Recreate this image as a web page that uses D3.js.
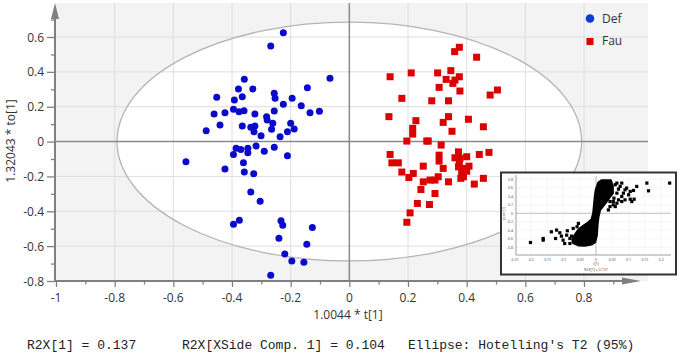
<!DOCTYPE html>
<html lang="en">
    <head>
        <meta charset="utf-8">
        <title>Score plot t[1] vs to[1]</title>
        <script src="https://d3js.org/d3.v7.min.js"></script>
        <style type="text/css">
            body { margin: 0; background: #fff; }
            .tick-label { font-family: "Segoe UI", "Open Sans", "Noto Sans", sans-serif; font-size: 12px; fill: #333; }
            .mono { font-family: "Liberation Mono", "DejaVu Sans Mono", monospace; font-size: 13px; fill: #222; }
        </style>
    </head>
    <body>
        <script type="text/javascript">
        // Data - Def group (blue circles)
        const defT  = [-0.225,-0.268,-0.066,-0.358,-0.378,-0.329,-0.452,-0.392,-0.365,-0.256,-0.253,-0.195,-0.143,-0.225,-0.164,
                       -0.395,-0.424,-0.461,-0.376,-0.359,-0.322,-0.256,-0.134,-0.102,-0.282,-0.280,-0.261,-0.200,-0.188,-0.441,
                       -0.488,-0.365,-0.336,-0.322,-0.325,-0.265,-0.211,-0.301,-0.236,-0.386,-0.370,-0.346,-0.346,-0.395,-0.318,
                       -0.290,-0.256,-0.211,-0.557,-0.361,-0.424,-0.358,-0.326,-0.336,-0.304,-0.395,-0.375,-0.233,-0.227,-0.126,
                       -0.240,-0.145,-0.220,-0.196,-0.155,-0.268];
        const defTo = [0.625,0.549,0.363,0.357,0.302,0.302,0.254,0.239,0.257,0.277,0.248,0.248,0.309,0.214,0.206,
                       0.185,0.166,0.158,0.171,0.177,0.158,0.175,0.166,0.174,0.143,0.124,0.105,0.105,0.072,0.095,
                       0.062,0.089,0.082,0.089,0.056,0.070,0.056,0.033,0.028,-0.039,-0.045,-0.039,-0.064,-0.074,-0.026,
                       -0.055,-0.033,-0.082,-0.116,-0.122,-0.158,-0.174,-0.184,-0.289,-0.342,-0.474,-0.451,-0.455,-0.480,-0.493,
                       -0.555,-0.589,-0.645,-0.685,-0.693,-0.767];

        // Data - Fau group (red squares)
        const fauT  = [0.375,0.359,0.434,0.139,0.211,0.301,0.346,0.330,0.360,0.375,0.353,0.306,0.377,0.505,0.480,
                       0.179,0.281,0.338,0.135,0.227,0.338,0.320,0.406,0.457,0.216,0.216,0.350,0.196,0.264,0.269,
                       0.313,0.139,0.145,0.167,0.306,0.306,0.372,0.360,0.377,0.400,0.375,0.443,0.476,0.252,0.320,
                       0.179,0.218,0.203,0.372,0.392,0.408,0.400,0.383,0.380,0.389,0.303,0.292,0.275,0.252,0.338,
                       0.426,0.457,0.244,0.292,0.232,0.273,0.207,0.196];
        const fauTo = [0.541,0.516,0.484,0.372,0.394,0.394,0.407,0.357,0.353,0.372,0.334,0.311,0.290,0.296,0.267,
                       0.248,0.234,0.234,0.143,0.120,0.143,0.110,0.128,0.085,0.076,0.043,0.059,0.003,0.003,0.003,
                       -0.020,-0.074,-0.122,-0.122,-0.078,-0.112,-0.059,-0.093,-0.097,-0.087,-0.125,-0.074,-0.062,-0.141,-0.154,
                       -0.175,-0.183,-0.206,-0.145,-0.154,-0.141,-0.170,-0.183,-0.211,-0.202,-0.202,-0.221,-0.221,-0.231,-0.231,
                       -0.244,-0.211,-0.275,-0.298,-0.355,-0.361,-0.409,-0.463];

        const groups = ["Def", "Fau"];
        const xTicks = [-1, -0.8, -0.6, -0.4, -0.2, 0, 0.2, 0.4, 0.6, 0.8];
        const yTicks = [-0.8, -0.6, -0.4, -0.2, 0, 0.2, 0.4, 0.6];
        const ellipseT = 0.792, ellipseTo = 0.685;   // Hotelling's T2 (95%) radii
        const footer = ["R2X[1] = 0.137", "R2X[XSide Comp. 1] = 0.104", "Ellipse: Hotelling's T2 (95%)"];

        // Inset loading plot - outline of the dense core, plus the scattered squares
        const insetCoreX = [0.017,0.045,0.051,0.051,0.043,0.028,0.012,0.007,0.004,0.002,-0.003,-0.013,-0.034,-0.054,-0.070,
                            -0.072,-0.065,-0.054,-0.039,-0.024,-0.013,-0.008,-0.006,-0.003,0.000,0.007];
        const insetCoreY = [0.774,0.774,0.632,0.474,0.395,0.237,0.079,-0.079,-0.277,-0.514,-0.672,-0.727,-0.758,-0.751,-0.695,
                            -0.616,-0.514,-0.395,-0.300,-0.221,-0.142,0.000,0.158,0.395,0.553,0.711];
        const insetX = [0.156,0.226,0.161,-0.201,-0.162,-0.162,-0.137,-0.121,-0.111,-0.124,-0.101,-0.088,-0.080,-0.075,-0.054,-0.058,-0.070,
                        0.064,0.074,0.089,0.115,0.125,0.084,0.064,0.055,0.089,0.105,0.117,0.064,0.079,0.043,0.038,0.053,
                        0.059,0.069,0.079,0.094,0.105,0.100,0.079,0.069,0.053,0.043,0.059,0.110,
                        -0.090,-0.080,-0.106,-0.058,-0.096];
        const insetY = [0.711,0.711,0.529,-0.687,-0.593,-0.632,-0.435,-0.395,-0.458,-0.593,-0.632,-0.411,-0.711,-0.537,-0.237,-0.316,-0.356,
                        0.711,0.632,0.553,0.537,0.632,0.474,0.474,0.356,0.316,0.332,0.332,0.237,0.277,0.158,0.079,0.198,
                        0.672,0.569,0.711,0.593,0.514,0.435,0.395,0.316,0.277,0.277,0.158,0.277,
                        -0.514,-0.593,-0.537,-0.593,-0.711];
        const insetXTicks = [-0.25,-0.2,-0.15,-0.1,-0.05,0,0.05,0.1,0.15,0.2];
        const insetYTicks = [-0.8,-0.6,-0.4,-0.2,0,0.2,0.4,0.6,0.8];

        // Constants
        const w = 680, h = 356;
        const left = 55, bottom = 281, plotTop = 3, plotRight = 648;

        const svg = d3.select("body")
                      .append("svg")
                      .attr("width", w)
                      .attr("height", h);

        // Scales
        const xScale = d3.scaleLinear().domain([-1, 0.8]).range([56, 584]);
        const yScale = d3.scaleLinear().domain([-0.8, 0.6]).range([281, 37]);

        // plot background
        svg.append("rect")
           .attr("x", left).attr("y", plotTop)
           .attr("width", plotRight - left).attr("height", bottom - plotTop)
           .attr("fill", "#f3f3f3");

        // ellipse fill
        svg.append("ellipse")
           .attr("cx", xScale(0)).attr("cy", yScale(0))
           .attr("rx", xScale(ellipseT) - xScale(0))
           .attr("ry", yScale(0) - yScale(ellipseTo))
           .attr("fill", "#fff");

        // grid
        svg.selectAll(".vgrid")
           .data(xTicks.filter(d => d !== -1 && d !== 0))
           .enter().append("line")
           .attr("x1", d => xScale(d)).attr("x2", d => xScale(d))
           .attr("y1", plotTop).attr("y2", bottom)
           .attr("stroke", "#dedede").attr("stroke-width", 1);

        svg.selectAll(".hgrid")
           .data(yTicks.filter(d => d !== -0.8 && d !== 0))
           .enter().append("line")
           .attr("x1", left).attr("x2", plotRight)
           .attr("y1", d => yScale(d)).attr("y2", d => yScale(d))
           .attr("stroke", "#dedede").attr("stroke-width", 1);

        // ellipse outline
        svg.append("ellipse")
           .attr("cx", xScale(0)).attr("cy", yScale(0))
           .attr("rx", xScale(ellipseT) - xScale(0))
           .attr("ry", yScale(0) - yScale(ellipseTo))
           .attr("fill", "none")
           .attr("stroke", "#b4b4b4").attr("stroke-width", 1.3);

        // zero lines
        svg.append("line")
           .attr("x1", xScale(0)).attr("x2", xScale(0))
           .attr("y1", plotTop).attr("y2", bottom)
           .attr("stroke", "#8a8a8a").attr("stroke-width", 1.5);
        svg.append("line")
           .attr("x1", left).attr("x2", plotRight)
           .attr("y1", yScale(0)).attr("y2", yScale(0))
           .attr("stroke", "#8a8a8a").attr("stroke-width", 1.5);

        // Axes
        const bottomAxis = d3.axisBottom(xScale)
                             .tickValues(d3.range(-1, 0.95, 0.1))
                             .tickFormat("")
                             .tickSizeInner(5).tickSizeOuter(0);
        const gx = svg.append("g")
           .attr("transform", "translate(0," + bottom + ")")
           .call(bottomAxis);
        gx.select(".domain").remove();
        gx.selectAll(".tick line").attr("stroke", "#808080").attr("stroke-width", 1.3)
          .attr("y2", (d, i) => i % 2 === 0 ? 6 : 3.5);

        xTicks.forEach(t => {
            svg.append("text")
               .attr("class", "tick-label")
               .attr("x", xScale(t)).attr("y", 301.5)
               .attr("text-anchor", "middle")
               .text(d3.format("")(t).replace("−", "-"));
        });

        const leftAxis = d3.axisLeft(yScale)
                           .tickValues(d3.range(-0.8, 0.75, 0.1))
                           .tickFormat("")
                           .tickSizeInner(8).tickSizeOuter(0);
        const gy = svg.append("g")
           .attr("transform", "translate(" + left + ",0)")
           .call(leftAxis);
        gy.select(".domain").remove();
        gy.selectAll(".tick line").attr("stroke", "#808080").attr("stroke-width", 1.3)
          .attr("x2", (d, i) => i % 2 === 0 ? -8 : -4);

        yTicks.forEach(t => {
            svg.append("text")
               .attr("class", "tick-label")
               .attr("x", 44).attr("y", yScale(t) + 4.5)
               .attr("text-anchor", "end")
               .text(d3.format("")(t).replace("−", "-"));
        });

        // axis lines with arrows
        svg.append("line")
           .attr("x1", left).attr("x2", 628)
           .attr("y1", bottom).attr("y2", bottom)
           .attr("stroke", "#808080").attr("stroke-width", 2);
        svg.append("path")
           .attr("d", "M622," + (bottom - 3.5) + " L641," + bottom + " L622," + (bottom + 3.5) + "Z")
           .attr("fill", "#808080");
        svg.append("line")
           .attr("x1", left).attr("x2", left)
           .attr("y1", bottom).attr("y2", 16)
           .attr("stroke", "#808080").attr("stroke-width", 2);
        svg.append("path")
           .attr("d", "M" + (left - 4) + ",19 L" + left + ",3 L" + (left + 4) + ",19Z")
           .attr("fill", "#808080");

        // axis titles
        svg.append("text")
           .attr("class", "tick-label")
           .attr("x", 348).attr("y", 319)
           .attr("text-anchor", "middle")
           .text("1.0044 * t[1]");
        svg.append("text")
           .attr("class", "tick-label")
           .attr("transform", "translate(15,141) rotate(-90)")
           .attr("text-anchor", "middle")
           .text("1.32043 * to[1]");

        // Points
        svg.selectAll(".def")
           .data(defT.map((t, i) => ({ t: t, to: defTo[i] })))
           .enter().append("circle")
           .attr("cx", d => xScale(d.t))
           .attr("cy", d => yScale(d.to))
           .attr("r", 3.5)
           .attr("fill", "#0a0acc");

        svg.selectAll(".fau")
           .data(fauT.map((t, i) => ({ t: t, to: fauTo[i] })))
           .enter().append("rect")
           .attr("x", d => xScale(d.t) - 3.5)
           .attr("y", d => yScale(d.to) - 3.5)
           .attr("width", 7).attr("height", 7)
           .attr("fill", "#dd0000");

        // Legend
        svg.append("circle").attr("cx", 590).attr("cy", 18.5).attr("r", 4.3).attr("fill", "#0a3cd6");
        svg.append("rect").attr("x", 586.5).attr("y", 38).attr("width", 7).attr("height", 7).attr("fill", "#dd0000");
        groups.forEach((g, i) => {
            svg.append("text")
               .attr("class", "tick-label")
               .attr("x", 602).attr("y", 22.5 + i * 22)
               .text(g);
        });

        // Inset
        const inset = svg.append("g");
        inset.append("rect")
             .attr("x", 501).attr("y", 172.5)
             .attr("width", 175).attr("height", 102)
             .attr("fill", "#fff")
             .attr("stroke", "#333").attr("stroke-width", 2);

        const ix = d3.scaleLinear().domain([-0.25, 0]).range([514.5, 596]);
        const iy = d3.scaleLinear().domain([-0.8, 0]).range([247.3, 213.3]);

        insetXTicks.forEach(t => {
            inset.append("line")
                 .attr("x1", ix(t)).attr("x2", ix(t)).attr("y1", 176).attr("y2", 255)
                 .attr("stroke", "#eee").attr("stroke-width", 0.6);
            inset.append("text")
                 .attr("x", ix(t)).attr("y", 260.5)
                 .attr("text-anchor", "middle")
                 .attr("font-size", "3.5px").attr("fill", "#555")
                 .attr("font-family", "Noto Sans, sans-serif")
                 .text(t);
        });
        insetYTicks.forEach(t => {
            inset.append("line")
                 .attr("x1", 516).attr("x2", 671).attr("y1", iy(t)).attr("y2", iy(t))
                 .attr("stroke", "#eee").attr("stroke-width", 0.6);
            inset.append("text")
                 .attr("x", 513).attr("y", iy(t) + 1.2)
                 .attr("text-anchor", "end")
                 .attr("font-size", "3.5px").attr("fill", "#555")
                 .attr("font-family", "Noto Sans, sans-serif")
                 .text(t);
        });
        inset.append("line").attr("x1", 516).attr("x2", 671).attr("y1", iy(0)).attr("y2", iy(0))
             .attr("stroke", "#aaa").attr("stroke-width", 0.7);
        inset.append("line").attr("x1", ix(0)).attr("x2", ix(0)).attr("y1", 176).attr("y2", 255)
             .attr("stroke", "#aaa").attr("stroke-width", 0.7);
        inset.append("line").attr("x1", 516).attr("x2", 671).attr("y1", 255).attr("y2", 255)
             .attr("stroke", "#777").attr("stroke-width", 0.7);
        inset.append("line").attr("x1", 516).attr("x2", 516).attr("y1", 175).attr("y2", 255)
             .attr("stroke", "#777").attr("stroke-width", 0.7);
        inset.append("text")
             .attr("x", ix(0)).attr("y", 265)
             .attr("text-anchor", "middle").attr("font-size", "3.5px").attr("fill", "#555")
             .attr("font-family", "Noto Sans, sans-serif")
             .text("t[1]");
        inset.append("text")
             .attr("x", ix(0)).attr("y", 270.5)
             .attr("text-anchor", "middle").attr("font-size", "3.5px").attr("fill", "#555")
             .attr("font-family", "Noto Sans, sans-serif")
             .text("R2X[1] = 0.137");
        inset.append("text")
             .attr("transform", "translate(505," + iy(0) + ") rotate(-90)")
             .attr("text-anchor", "middle").attr("font-size", "3.5px").attr("fill", "#555")
             .attr("font-family", "Noto Sans, sans-serif")
             .text("pcorr[1]");

        const core = d3.line()
                       .x(d => ix(d[0])).y(d => iy(d[1]))
                       .curve(d3.curveLinearClosed);
        inset.append("path")
             .attr("d", core(insetCoreX.map((x, i) => [x, insetCoreY[i]])))
             .attr("fill", "#000")
             .attr("stroke", "#000").attr("stroke-width", 2.5)
             .attr("stroke-linejoin", "round");

        inset.selectAll(".ipt")
             .data(insetX.map((x, i) => [x, insetY[i]]))
             .enter().append("rect")
             .attr("x", d => ix(d[0]) - 1.6)
             .attr("y", d => iy(d[1]) - 1.6)
             .attr("width", 3.2).attr("height", 3.2)
             .attr("fill", "#000");

        // Footer
        const footerX = [27, 182, 408];
        footer.forEach((f, i) => {
            svg.append("text")
               .attr("class", "mono")
               .attr("x", footerX[i]).attr("y", 349)
               .attr("xml:space", "preserve")
               .text(f);
        });
        </script>
    </body>
</html>
